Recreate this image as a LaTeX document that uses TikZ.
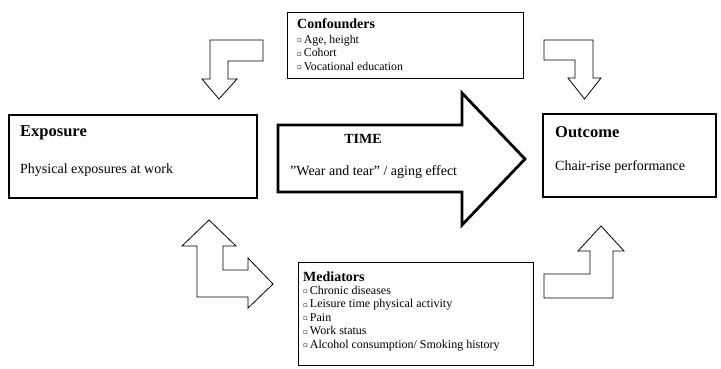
\documentclass[tikz,border=0pt]{standalone}
\usepackage{fontspec}
\setmainfont{Liberation Serif}
\newfontfamily\symfont{DejaVu Sans}
\newcommand{\sqbul}{{\symfont\fontsize{7}{7}\selectfont\raisebox{0.3pt}{\char"25AB}}\,}
\begin{document}
\begin{tikzpicture}[x=1pt,y=-1pt,
  thickbox/.style={draw,line width=2.8pt,rectangle,inner sep=0pt},
  thinbox/.style={draw,line width=0.9pt,rectangle,inner sep=0pt},
  shapearrow/.style={draw,line width=0.8pt,line join=miter,fill=white},
  bigarrow/.style={draw,line width=2.8pt,line join=miter,fill=white},
  txt/.style={anchor=base west,inner sep=0pt},
  head/.style={txt,font=\fontsize{16.5}{18}\selectfont\bfseries},
  subhead/.style={txt,font=\fontsize{14}{16}\selectfont\bfseries},
  body/.style={txt,font=\fontsize{14}{16}\selectfont},
  item/.style={txt,font=\fontsize{11.8}{13}\selectfont},
  mitem/.style={txt,font=\fontsize{12}{13}\selectfont}]
\useasboundingbox (0,0) rectangle (721,368);
% boxes
\node[thickbox,minimum width=248pt,minimum height=83pt] (exp) at (133,156.5) {};
\node[thickbox,minimum width=173pt,minimum height=83pt] (out) at (629.5,155.5) {};
\node[thinbox,minimum width=236pt,minimum height=66pt] (conf) at (405,45) {};
\node[thinbox,minimum width=235pt,minimum height=103pt] (med) at (415.5,313.5) {};
% big time arrow
\draw[bigarrow] (278,125) -- (462,125) -- (462,93) -- (525,159) -- (462,225) -- (462,192) -- (278,192) -- cycle;
% small bent arrows
\draw[shapearrow] (210,40) -- (263,40) -- (263,61) -- (228,61) -- (228,79) -- (237,79) -- (219,99) -- (202,79) -- (210,79) -- cycle;
\draw[shapearrow] (544,40) -- (593,40) -- (593,78) -- (601,78) -- (584.5,99) -- (568,78) -- (575,78) -- (575,60) -- (544,60) -- cycle;
\draw[shapearrow] (209,220) -- (236,246) -- (223,246) -- (223,270) -- (248,270) -- (248,258) -- (273,284) -- (248,308) -- (248,297) -- (197,297) -- (197,246) -- (182,246) -- cycle;
\draw[shapearrow] (601,226) -- (624,251) -- (613,251) -- (613,298) -- (544,298) -- (544,274) -- (590,274) -- (590,251) -- (578,251) -- cycle;
% texts
\node[head] (exph) at (20,136) {Exposure};
\node[body] (expt) at (20,173) {Physical exposures at work};
\node[head] (outh) at (555,137) {Outcome};
\node[body] (outt) at (555,170) {Chair-rise performance};
\node[subhead,anchor=base] (timeh) at (363,143) {TIME};
\node[body] (timet) at (290,175) {”Wear and tear” / aging effect};
\node[subhead] (confh) at (297,28) {Confounders};
\node[item] (c1) at (297,43) {\sqbul Age, height};
\node[item] (c2) at (297,56.5) {\sqbul Cohort};
\node[item] (c3) at (297,70) {\sqbul Vocational education};
\node[subhead] (medh) at (303,281) {Mediators};
\node[mitem] (m1) at (303,294) {\sqbul Chronic diseases};
\node[mitem] (m2) at (303,307.5) {\sqbul Leisure time physical activity};
\node[mitem] (m3) at (303,321) {\sqbul Pain};
\node[mitem] (m4) at (303,334.5) {\sqbul Work status};
\node[mitem] (m5) at (303,348) {\sqbul Alcohol consumption/ Smoking history};
\end{tikzpicture}
\end{document}
